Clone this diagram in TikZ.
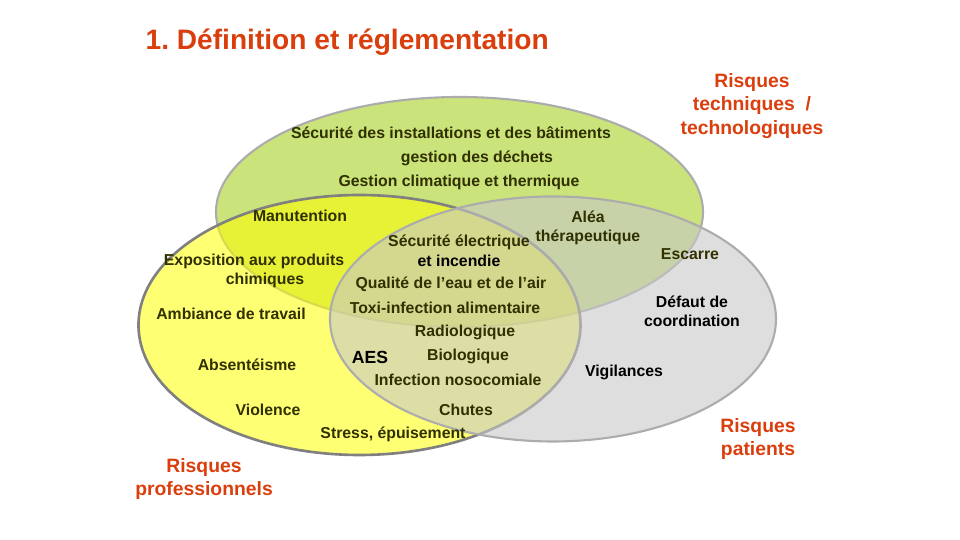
\documentclass[tikz,border=0pt]{standalone}
\usepackage{fontspec}
\setmainfont{Liberation Sans}
\frenchspacing
\definecolor{riskRed}{RGB}{218, 62, 12}
\definecolor{oliveText}{RGB}{48, 48, 0}
\definecolor{techGreen}{RGB}{202, 227, 122}
\definecolor{proYellow}{RGB}{255, 255, 0}
\definecolor{patGray}{RGB}{200, 200, 200}
\definecolor{rimGray}{RGB}{128, 128, 128}
\definecolor{rimLight}{RGB}{172, 172, 172}
\usepackage{tikz}
\usetikzlibrary{positioning,calc}

\begin{document}
\begin{tikzpicture}[
        item/.style={font=\bfseries\fontsize{4.5}{5.4}\selectfont,text=oliveText,align=center,inner sep=0pt},
        itemdark/.style={item,text=black},
        group/.style={font=\bfseries\fontsize{5.5}{6.8}\selectfont,text=riskRed,align=center,inner sep=0pt}
    ]
        \useasboundingbox (0,0) rectangle (9.6,5.4);

        % Risques techniques / technologiques
        \draw[fill=techGreen,draw=rimLight,line width=0.6pt] (4.595,3.28) ellipse (2.435 and 1.15);
        % Risques professionnels
        \draw[fill=proYellow,fill opacity=0.55,draw=rimGray,line width=0.75pt] (3.595,2.15) ellipse (2.21 and 1.30);
        % Risques patients
        \draw[fill=patGray,fill opacity=0.6,draw=rimLight,line width=0.6pt] (5.53,2.21) ellipse (2.23 and 1.225);

        % Title
        \node[anchor=west,inner sep=0pt,text=riskRed,font=\bfseries\fontsize{8}{9.6}\selectfont] (title) at (1.45,4.975) {1. Définition et réglementation};

        % Group labels
        \node[group] (techno) at (7.52,4.34) {Risques\\techniques~~/\\technologiques};
        \node[group] (patients) at (7.58,1.01) {Risques\\patients};
        \node[group] (pros) at (2.04,0.61) {Risques\\professionnels};

        % Technical items
        \node[item] (batiments) at (4.51,4.07) {Sécurité des installations et des bâtiments};
        \node[item] (dechets) at (4.77,3.82) {gestion des déchets};
        \node[item] (climat) at (4.59,3.58) {Gestion climatique et thermique};
        \node[item] (electrique) at (4.59,2.98) {Sécurité électrique};
        \node[itemdark] (incendie) at (4.59,2.79) {et incendie};
        \node[item] (eau) at (4.51,2.56) {Qualité de l’eau et de l’air};
        \node[item] (toxi) at (4.45,2.32) {Toxi-infection alimentaire};

        % Professional items
        \node[item] (manut) at (3.00,3.24) {Manutention};
        \node[item] (chimie) at (2.54,2.79) {Exposition aux produits};
        \node[item] (chimie2) at (2.65,2.60) {chimiques};
        \node[item] (ambiance) at (2.31,2.26) {Ambiance de travail};
        \node[item] (absent) at (2.47,1.75) {Absentéisme};
        \node[item] (violence) at (2.68,1.30) {Violence};
        \node[item] (stress) at (3.93,1.06) {Stress, épuisement};
        \node[itemdark,font=\bfseries\fontsize{5}{6}\selectfont] (aes) at (3.70,1.83) {AES};

        % Shared items
        \node[item] (radio) at (4.65,2.08) {Radiologique};
        \node[item] (bio) at (4.68,1.84) {Biologique};
        \node[item] (nosoco) at (4.58,1.60) {Infection nosocomiale};
        \node[item] (chutes) at (4.66,1.30) {Chutes};

        % Patient items
        \node[item] (alea) at (5.88,3.12) {Aléa\\thérapeutique};
        \node[item] (escarre) at (6.90,2.86) {Escarre};
        \node[itemdark] (coord) at (6.92,2.29) {Défaut de\\coordination};
        \node[itemdark] (vigil) at (6.24,1.68) {Vigilances};

    \end{tikzpicture}
\end{document}
